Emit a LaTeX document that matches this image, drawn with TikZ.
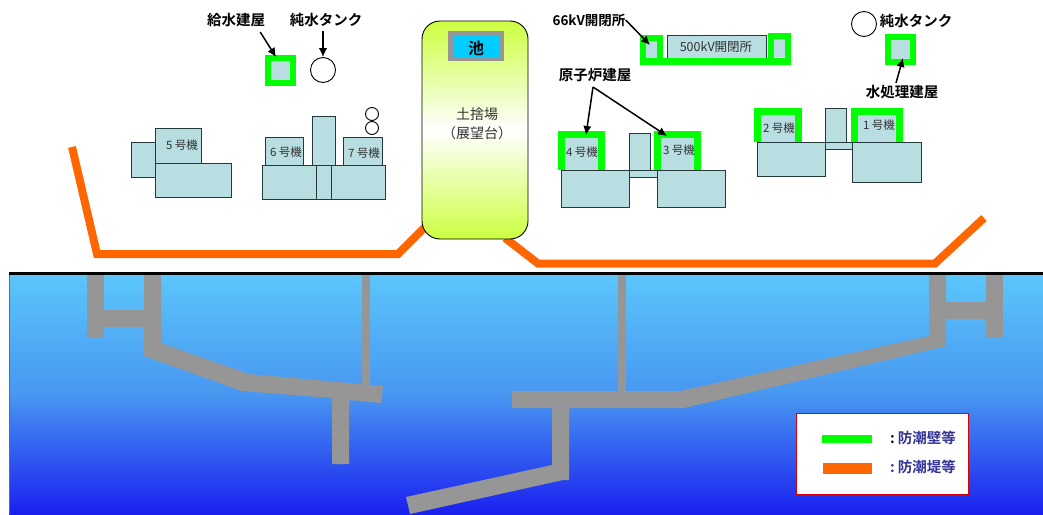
\documentclass[tikz,border=0pt]{standalone}
\usepackage{fontspec}
\setmainfont{Noto Sans CJK JP}[BoldFont=* Bold]
\usetikzlibrary{arrows.meta}
\definecolor{bldgblue}{HTML}{B9DEE2}
\definecolor{bldgedge}{HTML}{24393C}
\definecolor{wallgreen}{HTML}{00FF00}
\definecolor{bankorange}{HTML}{FF6600}
\definecolor{pipegray}{HTML}{969696}
\definecolor{seatop}{HTML}{5BC6FB}
\definecolor{seamid}{HTML}{4897F1}
\definecolor{seabottom}{HTML}{1A20F0}
\definecolor{yardgreen}{HTML}{CCFF40}
\definecolor{pondblue}{HTML}{00CCFF}
\definecolor{legendblue}{HTML}{333399}
\tikzset{
  bldg/.style={draw=bldgedge,fill=bldgblue,line width=1pt,inner sep=0pt},
  wall/.style={draw=wallgreen,line width=7pt,line join=miter},
  bank/.style={draw=bankorange,line width=8pt,line join=miter},
  pipe/.style={fill=pipegray,draw=none},
  tank/.style={circle,draw=black,fill=white,line width=0.9pt,inner sep=0pt,minimum size=25pt},
  lbl/.style={font=\bfseries\fontsize{14.5}{15}\selectfont,inner sep=0pt},
  unitlbl/.style={font=\fontsize{11.5}{12}\selectfont,text=black!80,inner sep=0pt},
  ptr/.style={-{Latex[length=9pt,width=8.5pt]},line width=1.5pt}
}
\begin{document}
\begin{tikzpicture}[x=1pt,y=-1pt]
  \useasboundingbox (0,0) rectangle (1043,514);

  % sea and harbour
  \shade[top color=seatop,bottom color=seabottom,middle color=seamid] (9,274) rectangle (1043,514);
  \draw[pipegray!70!black,line width=1pt] (9,274) -- (9,514);
  \fill[pipe] (87,274) rectangle (104,338);
  \fill[pipe] (104,310) rectangle (144,327);
  \fill[pipe] (362,274) rectangle (370,386);
  \fill[pipe] (144,274) -- (161,274) -- (161,343) -- (249,374) -- (383,386) -- (381,403) -- (349,400)
    -- (349,464) -- (332,464) -- (332,398) -- (242,391) -- (144,356) -- cycle;
  \fill[pipe] (618,274) rectangle (626,392);
  \fill[pipe] (512,391) -- (680,391) -- (929,336) -- (929,274) -- (946,274) -- (946,346) -- (684,408)
    -- (569,408) -- (569,480) -- (563,480) -- (410,514) -- (406,497) -- (552,465) -- (552,408) -- (512,408) -- cycle;
  \fill[pipe] (946,302) rectangle (986,319);
  \fill[pipe] (986,274) rectangle (1003,338);
  \draw[black,line width=3pt] (9,273) -- (1043,273);

  % seawalls
  \draw[bank] (72,147) -- (97,254) -- (398,254) -- (424,228);
  \draw[bank] (505,238) -- (538,263.5) -- (935,263.5) -- (984,218);

  % yard in the middle
  \node[draw=black,line width=0.9pt,top color=yardgreen,bottom color=yardgreen,middle color=white,
    rounded corners=18pt,minimum width=106pt,minimum height=218pt] (yard) at (475,130) {};
  \node[draw=pipegray,fill=pondblue,line width=4.5pt,minimum width=51.5pt,minimum height=25.5pt] (pond) at (476,46) {};
  \node[lbl,font=\bfseries\fontsize{16}{17}\selectfont] (pondlbl) at (476,48) {池};
  \node[unitlbl,font=\fontsize{14}{15}\selectfont] (yardlbl) at (477,114) {土捨場};
  \node[unitlbl,font=\fontsize{14}{15}\selectfont] (yardsub) at (477,133) {（展望台）};

  % units 5 to 7
  \node[bldg,minimum width=24pt,minimum height=35pt] (u5side) at (143,159.5) {};
  \node[bldg,minimum width=46pt,minimum height=35pt] (u5top) at (178,145.5) {};
  \node[bldg,minimum width=76pt,minimum height=34pt] (u5base) at (193,180) {};
  \node[bldg,minimum width=38pt,minimum height=28pt] (u6top) at (284,151) {};
  \node[bldg,minimum width=23pt,minimum height=49pt] (u67mid) at (323.5,140.5) {};
  \node[bldg,minimum width=39pt,minimum height=28pt] (u7top) at (362.5,151) {};
  \node[bldg,minimum width=123pt,minimum height=34pt] (u67base) at (323.5,182) {};
  \node[bldg,minimum width=15pt,minimum height=34pt] (u67link) at (323.5,182) {};
  \node[tank,minimum size=13pt] (tank7a) at (372,114) {};
  \node[tank,minimum size=13pt] (tank7b) at (372,128) {};

  % units 4 and 3
  \node[bldg,minimum width=40pt,minimum height=36pt] (u4top) at (581,152) {};
  \node[bldg,minimum width=40pt,minimum height=36pt] (u3top) at (677.5,152) {};
  \draw[wall] (561,170) -- (561,134.5) -- (601,134.5) -- (601,170);
  \draw[wall] (657.5,170) -- (657.5,134.5) -- (697.5,134.5) -- (697.5,170);
  \node[bldg,minimum width=21pt,minimum height=37pt] (u34mid) at (639.5,151.5) {};
  \node[bldg,minimum width=28pt,minimum height=7pt] (u34link) at (643,173.5) {};
  \node[bldg,minimum width=68pt,minimum height=37pt] (u4base) at (595,188.5) {};
  \node[bldg,minimum width=68pt,minimum height=37pt] (u3base) at (691,188.5) {};

  % units 2 and 1
  \node[bldg,minimum width=40pt,minimum height=30pt] (u2top) at (777.5,127) {};
  \node[bldg,minimum width=44pt,minimum height=30pt] (u1top) at (876.5,127) {};
  \draw[wall] (757,142) -- (757,111.5) -- (798.5,111.5) -- (798.5,142);
  \draw[wall] (854,142) -- (854,111) -- (899.5,111) -- (899.5,142);
  \node[bldg,minimum width=21pt,minimum height=34pt] (u12mid) at (835.5,125) {};
  \node[bldg,minimum width=27pt,minimum height=7pt] (u12link) at (838.5,145.5) {};
  \node[bldg,minimum width=68pt,minimum height=34pt] (u2base) at (791,159) {};
  \node[bldg,minimum width=69pt,minimum height=40pt] (u1base) at (886.5,162) {};

  % unit names
  \node[unitlbl] (u5lbl) at (182,145) {5 号機};
  \node[unitlbl] (u6lbl) at (286,152) {6 号機};
  \node[unitlbl] (u7lbl) at (364,153) {7 号機};
  \node[unitlbl] (u4lbl) at (582,152) {4 号機};
  \node[unitlbl] (u3lbl) at (679,150) {3 号機};
  \node[unitlbl] (u2lbl) at (779,128) {2 号機};
  \node[unitlbl] (u1lbl) at (879,125) {1 号機};

  % small buildings and tanks
  \node[bldg,draw=wallgreen,line width=6pt,minimum width=25pt,minimum height=25pt] (feed) at (280.5,70.5) {};
  \node[tank] (tankw) at (323,70) {};
  \node[tank] (tanke) at (864,24) {};
  \node[bldg,draw=wallgreen,line width=6pt,minimum width=25pt,minimum height=25pt] (treat) at (900.5,49.5) {};
  \node[bldg,minimum width=99pt,minimum height=24pt] (sw500) at (716.5,47) {};
  \node[bldg,draw=none,minimum width=11pt,minimum height=19pt] (sw66) at (651.5,49.5) {};
  \node[bldg,draw=none,minimum width=11pt,minimum height=18pt] (sw500r) at (779.5,48) {};
  \draw[wall,line width=6pt] (643,58) -- (643,38) -- (660,38) -- (660,61.5);
  \draw[wall,line width=6pt] (771,61.5) -- (771,36) -- (788,36) -- (788,62);
  \draw[wall,line width=6.5pt] (640,61.5) -- (791,61.5);
  \node[unitlbl,font=\fontsize{12.5}{13}\selectfont] (sw500lbl) at (716,47) {500kV開閉所};

  % labels and pointers
  \node[lbl] (feedlbl) at (236,20) {給水建屋};
  \node[lbl] (tankwlbl) at (326,20) {純水タンク};
  \node[lbl,font=\bfseries\fontsize{13.5}{14}\selectfont] (sw66lbl) at (589,20) {66kV開閉所};
  \node[lbl] (reactorlbl) at (595,75) {原子炉建屋};
  \node[lbl] (tankelbl) at (916,21) {純水タンク};
  \node[lbl] (treatlbl) at (902,92) {水処理建屋};
  \coordinate (feedtip) at (276,57);
  \coordinate (sw66tip) at (650,45);
  \coordinate (reactorfork) at (593,87);
  \coordinate (u4tip) at (586,135);
  \coordinate (u3tip) at (667,136);
  \coordinate (treattip) at (903,58);
  \begin{scope}[ptr]
    \draw ([shift={(-5,5)}]feedlbl.south east) to (feedtip);
    \draw ([shift={(-3,4)}]tankwlbl.south) to (tankw.north);
    \draw (sw66lbl.east) to (sw66tip);
    \draw (reactorfork) to (u4tip);
    \draw (reactorfork) to (u3tip);
    \draw ([shift={(-6,-2)}]treatlbl.north) to (treattip);
  \end{scope}

  % legend
  \node[draw=red!85!black,fill=white,line width=1pt,minimum width=172pt,minimum height=81.5pt] (legend) at (882,454) {};
  \draw[wallgreen,line width=8pt] (822,439) -- (872,439);
  \draw[bankorange,line width=11pt] (823,468.5) -- (872,468.5);
  \node[lbl,anchor=west] (legendwall) at (890,438) {:\hspace{3pt}\textcolor{legendblue}{防潮壁等}};
  \node[lbl,anchor=west,text=legendblue] (legendbank) at (890,467) {:\hspace{3pt}防潮堤等};
\end{tikzpicture}
\end{document}
